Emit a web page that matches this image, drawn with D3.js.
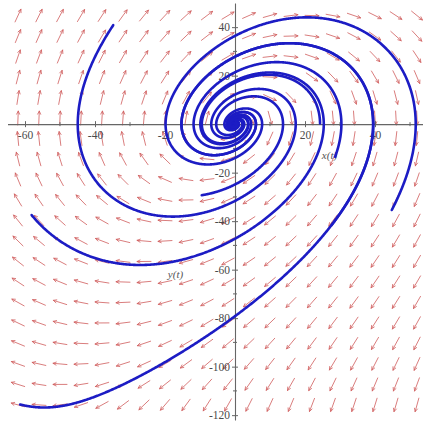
<!DOCTYPE html>
<html><head><meta charset="utf-8">
<script src="https://cdn.jsdelivr.net/npm/d3@7"></script>
<style>html,body{margin:0;padding:0;background:#fff;} svg{display:block}</style>
</head><body>
<svg id="c" width="423" height="423"></svg>
<script>
// ---- data ----
const xTickValues = [-60, -40, -20, 20, 40];
const yTickValues = [-120, -100, -80, -60, -40, -20, 20, 40];
const xMinorTicks = [-50, -30, -10, 10, 30, 50];
const yMinorTicks = [-110, -90, -70, -50, -30, -10, 10, 30];
// system  x' = cx[0]*x + cx[1]*y + cx[2]*y^3 ,  y' = cy[0]*x + cy[1]*y
// (coefficients estimated from the arrow directions and curve shapes)
const cx = [0, 1, -5.5e-5];
const cy = [-1.5, 0.7];
// outer (forward) end points of the drawn solution curves
const trajEndX = [-61.4, -58.1, -34.8, -9.5, 44.8, 27.6, 28.6, 24.3];
const trajEndY = [-115.6, -37.5, 40.8, -29.3, -35.4, -41.6, -13.5, 0.3];
// view window and direction-field grid
const viewX = [-65, 55];
const viewY = [-122, 50];
const fieldX = [-65, 55];
const fieldY = [-120, 49];
const fieldN = [20, 20];
const axisNames = ["x(t)", "y(t)"];
const axisNamePosX = [27, -17];
const axisNamePosY = [-13.5, -62.5];

// ---- drawing ----
const W = 423, H = 423;
const svg = d3.select("#c");
const x = d3.scaleLinear().domain(viewX).range([7.5, 427.5]);
const y = d3.scaleLinear().domain(viewY).range([420, 2.9]);

svg.append("defs").append("clipPath").attr("id", "clip")
  .append("rect").attr("x", 0).attr("y", 0).attr("width", W).attr("height", H);

const f = (px, py) => [cx[0]*px + cx[1]*py + cx[2]*py*py*py, cy[0]*px + cy[1]*py];

// direction field
const gField = svg.append("g").attr("stroke", "#cf5c5c").attr("stroke-width", 0.8)
  .attr("fill", "none").attr("stroke-linecap", "round");
const dxg = (fieldX[1]-fieldX[0])/fieldN[0], dyg = (fieldY[1]-fieldY[0])/fieldN[1];
const L = 14, HL = 3.5, HA = 0.45;
const arrows = [];
for (let i = 0; i < fieldN[0]; i++) {
  for (let j = 0; j < fieldN[1]; j++) {
    arrows.push([fieldX[0] + (i+0.5)*dxg, fieldY[0] + (j+0.5)*dyg]);
  }
}
gField.selectAll("path").data(arrows).join("path").attr("d", d => {
  const [vx, vy] = f(d[0], d[1]);
  const X0 = x(d[0]), Y0 = y(d[1]);
  let ux = x(d[0]+vx*0.01) - X0, uy = y(d[1]+vy*0.01) - Y0;
  const n = Math.hypot(ux, uy) || 1; ux /= n; uy /= n;
  const sx = X0 - ux*L/2, sy = Y0 - uy*L/2, ex = X0 + ux*L/2, ey = Y0 + uy*L/2;
  const ang = Math.atan2(uy, ux);
  const h1x = ex - HL*Math.cos(ang - HA), h1y = ey - HL*Math.sin(ang - HA);
  const h2x = ex - HL*Math.cos(ang + HA), h2y = ey - HL*Math.sin(ang + HA);
  return `M${sx},${sy}L${ex},${ey}M${h1x},${h1y}L${ex},${ey}L${h2x},${h2y}`;
});

// axes
const fmt = d => String(d);
const gx = svg.append("g").attr("transform", `translate(0,${y(0)})`)
  .call(d3.axisBottom(x).tickValues(xTickValues).tickFormat(fmt).tickSizeInner(3).tickSizeOuter(0).tickPadding(4));
const gy = svg.append("g").attr("transform", `translate(${x(0)},0)`)
  .call(d3.axisLeft(y).tickValues(yTickValues).tickFormat(fmt).tickSizeInner(3).tickSizeOuter(0).tickPadding(2));
[gx, gy].forEach(g => {
  g.select(".domain").attr("stroke", "#666").attr("stroke-width", 1.1);
  g.selectAll(".tick line").attr("stroke", "#666");
  g.selectAll(".tick text").attr("fill", "#4a4a4a").attr("font-family", "Liberation Serif, serif").attr("font-size", 11.5);
});
gx.selectAll(".tick line").attr("y1", -3).attr("y2", 3);
gy.selectAll(".tick line").attr("x1", -3).attr("x2", 3);
svg.append("g").selectAll("line").data(xMinorTicks).join("line")
  .attr("x1", d => x(d)).attr("x2", d => x(d)).attr("y1", y(0)-2).attr("y2", y(0)+2).attr("stroke", "#666");
svg.append("g").selectAll("line").data(yMinorTicks).join("line")
  .attr("y1", d => y(d)).attr("y2", d => y(d)).attr("x1", x(0)-2).attr("x2", x(0)+2).attr("stroke", "#666");

svg.append("g").selectAll("text").data(axisNames).join("text")
  .attr("x", (d, i) => x(axisNamePosX[i])).attr("y", (d, i) => y(axisNamePosY[i]))
  .attr("text-anchor", "middle").attr("dominant-baseline", "middle")
  .attr("font-family", "Liberation Serif, serif").attr("font-style", "italic")
  .attr("font-size", 11).attr("fill", "#555").text(d => d);

// solution curves: integrate backward in time from the outer end (RK4)
function trajectory(x0, y0) {
  const pts = [[x0, y0]];
  let px = x0, py = y0;
  const h = -0.005;
  for (let k = 0; k < 8000; k++) {
    const k1 = f(px, py);
    const k2 = f(px + h/2*k1[0], py + h/2*k1[1]);
    const k3 = f(px + h/2*k2[0], py + h/2*k2[1]);
    const k4 = f(px + h*k3[0], py + h*k3[1]);
    px += h/6*(k1[0] + 2*k2[0] + 2*k3[0] + k4[0]);
    py += h/6*(k1[1] + 2*k2[1] + 2*k3[1] + k4[1]);
    pts.push([px, py]);
    if (Math.hypot(px, py) < 0.3) break;
  }
  return pts;
}
const line = d3.line().x(d => x(d[0])).y(d => y(d[1]));
svg.append("g").attr("clip-path", "url(#clip)").selectAll("path")
  .data(trajEndX.map((v, i) => trajectory(v, trajEndY[i])))
  .join("path").attr("d", line).attr("fill", "none")
  .attr("stroke", "#1c1cc4").attr("stroke-width", 2.6).attr("stroke-linejoin", "round").attr("stroke-linecap", "round");
</script>
</body></html>
